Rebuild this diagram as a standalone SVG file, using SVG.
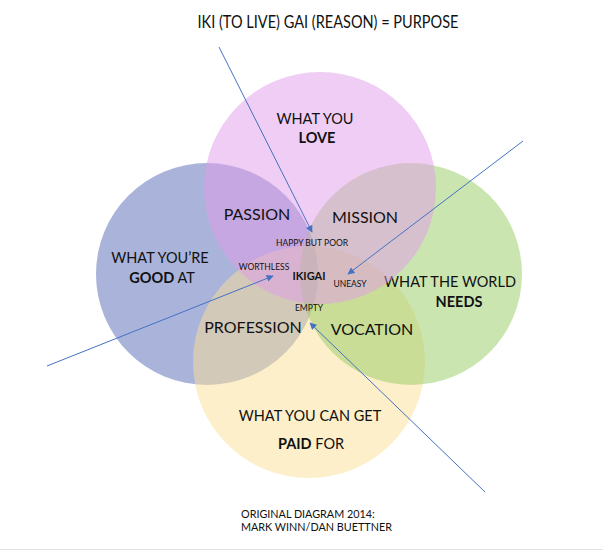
<svg xmlns="http://www.w3.org/2000/svg" width="603" height="551" viewBox="0 0 603 551">
<style>
text{font-family:Lato,"Liberation Sans",sans-serif;fill:#111;text-anchor:middle}
.c{fill-opacity:0.5;stroke:none}
.big{font-size:14.5px}
.lab{font-size:16px}
.sm{font-size:8.5px}
.b{font-weight:bold}
.arr{stroke:#4472c4;stroke-width:1;fill:none;marker-end:url(#ah)}
</style>
<defs>
<marker id="ah" viewBox="0 0 10 10" refX="9" refY="5" markerWidth="8" markerHeight="7" markerUnits="userSpaceOnUse" orient="auto">
<path d="M0,0 L10,5 L0,10 z" fill="#4472c4"/>
</marker>
</defs>
<rect width="603" height="551" fill="#fff"/>
<line x1="0" y1="549.5" x2="603" y2="549.5" stroke="#e2e2e2" stroke-width="1"/>
<text x="328" y="28" style="font-size:17.5px" textLength="261" lengthAdjust="spacingAndGlyphs">IKI (TO LIVE) GAI (REASON) = PURPOSE</text>

<g id="good"><circle class="c" cx="207" cy="274" r="111" fill="#5567b5"/>
<text class="big" x="160" y="263">WHAT YOU’RE</text>
<text class="big" x="162" y="283"><tspan class="b">GOOD</tspan> AT</text></g>
<g id="paid"><circle class="c" cx="309" cy="362" r="116" fill="#fbdf95"/>
<text class="big" x="310" y="421">WHAT YOU CAN GET</text>
<text class="big" x="311" y="449"><tspan class="b">PAID</tspan> FOR</text></g>
<g id="needs"><circle class="c" cx="411" cy="274" r="111" fill="#97cb63"/>
<text class="big" x="450" y="287">WHAT THE WORLD</text>
<text class="big b" x="459" y="307">NEEDS</text></g>
<g id="love"><circle class="c" cx="320" cy="188" r="116" fill="#e19be9"/>
<text class="big" x="315" y="124">WHAT YOU</text>
<text class="big b" x="317" y="143">LOVE</text></g>

<g id="passion"><text class="lab" x="257" y="220">PASSION</text></g>
<g id="mission"><text class="lab" x="365" y="223">MISSION</text></g>
<g id="profession"><text class="lab" x="253" y="333">PROFESSION</text></g>
<g id="vocation"><text class="lab" x="372" y="335">VOCATION</text></g>
<g id="happy"><text class="sm" x="312" y="246">HAPPY BUT POOR</text></g>
<g id="worthless"><text class="sm" x="264" y="270">WORTHLESS</text></g>
<g id="ikigai"><text class="b" style="font-size:11px" x="309" y="280">IKIGAI</text></g>
<g id="uneasy"><text class="sm" x="350" y="287">UNEASY</text></g>
<g id="empty"><text class="sm" x="309" y="311">EMPTY</text></g>

<g id="connectors">
<line class="arr" x1="219" y1="47" x2="312" y2="232"/>
<line class="arr" x1="523" y1="141" x2="348" y2="274"/>
<line class="arr" x1="47" y1="366" x2="273" y2="276"/>
<line class="arr" x1="485" y1="492" x2="310" y2="323"/>
</g>

<text x="241" y="518" style="font-size:10.8px;text-anchor:start">ORIGINAL DIAGRAM 2014:</text>
<text x="241" y="531" style="font-size:10.8px;text-anchor:start">MARK WINN/DAN BUETTNER</text>
</svg>
